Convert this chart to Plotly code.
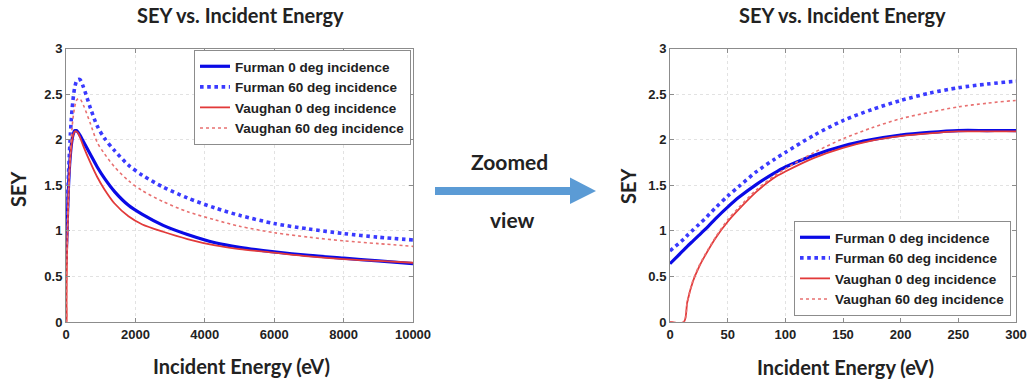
import plotly.graph_objects as go

# ---- data ----
energy = [0, 12, 15, 20, 25, 30, 40, 50, 60, 75, 90, 100, 125, 150, 175, 200, 225, 250, 275, 300,
          350, 400, 500, 700, 900, 1100, 1400, 1800, 2200, 2800, 3500, 4300, 5000, 6000, 7000,
          8000, 9000, 10000]

furman_0 = [0.64, 0.79, 0.83, 0.89, 0.95, 1.01, 1.14, 1.26, 1.37, 1.51, 1.63, 1.70, 1.83, 1.93,
            2.00, 2.05, 2.08, 2.10, 2.10, 2.10, 2.08, 2.05, 1.98, 1.84, 1.70, 1.58, 1.43, 1.28,
            1.18, 1.06, 0.96, 0.87, 0.82, 0.77, 0.73, 0.70, 0.67, 0.64]

furman_60 = [0.78, 0.91, 0.95, 1.01, 1.07, 1.13, 1.26, 1.38, 1.49, 1.65, 1.78, 1.86, 2.05, 2.21,
             2.33, 2.43, 2.51, 2.57, 2.61, 2.64, 2.66, 2.66, 2.58, 2.35, 2.15, 2.02, 1.88, 1.72,
             1.61, 1.48, 1.36, 1.25, 1.17, 1.08, 1.02, 0.97, 0.93, 0.90]

vaughan_0 = [0.0, 0.0, 0.22, 0.45, 0.60, 0.72, 0.93, 1.10, 1.24, 1.43, 1.58, 1.65, 1.80, 1.91,
             1.99, 2.04, 2.07, 2.09, 2.09, 2.09, 2.07, 2.03, 1.93, 1.75, 1.59, 1.46, 1.30, 1.16,
             1.07, 0.99, 0.91, 0.84, 0.80, 0.76, 0.72, 0.69, 0.67, 0.65]

vaughan_60 = [0.0, 0.0, 0.22, 0.46, 0.61, 0.73, 0.94, 1.12, 1.26, 1.45, 1.60, 1.68, 1.86, 2.01,
              2.13, 2.23, 2.30, 2.36, 2.40, 2.43, 2.45, 2.45, 2.38, 2.18, 1.97, 1.85, 1.70, 1.55,
              1.44, 1.32, 1.21, 1.12, 1.05, 0.98, 0.93, 0.89, 0.86, 0.83]

series_names = ["Furman 0 deg incidence", "Furman 60 deg incidence",
                "Vaughan 0 deg incidence", "Vaughan 60 deg incidence"]
series_values = [furman_0, furman_60, vaughan_0, vaughan_60]

left_ticks = [0, 2000, 4000, 6000, 8000, 10000]
left_ticktext = ["0", "2000", "4000", "6000", "8000", "10000"]
right_ticks = [0, 50, 100, 150, 200, 250, 300]
y_ticks = [0, 0.5, 1, 1.5, 2, 2.5, 3]
y_ticktext = ["0", "0.5", "1", "1.5", "2", "2.5", "3"]

chart_title = "SEY vs. Incident Energy"
x_title = "Incident Energy (eV)"
y_title = "SEY"

# ---- styling ----
W, H = 1029, 385
styles = [
    dict(color="#0a0ae6", width=3.2, dash="solid"),
    dict(color="#3a3aff", width=3.6, dash="dot"),
    dict(color="#e23a3a", width=1.8, dash="solid"),
    dict(color="#e87070", width=1.6, dash="dot"),
]

def px(x):
    return x / W

def py(y):
    return 1 - y / H

fig = go.Figure()

for i, (name, vals) in enumerate(zip(series_names, series_values)):
    fig.add_trace(go.Scatter(x=energy, y=vals, name=name, mode="lines",
                             line=dict(shape="spline", smoothing=0.8, **styles[i]),
                             xaxis="x", yaxis="y", legend="legend"))
for i, (name, vals) in enumerate(zip(series_names, series_values)):
    fig.add_trace(go.Scatter(x=energy, y=vals, name=name, mode="lines",
                             line=dict(shape="spline", smoothing=0.8, **styles[i]),
                             xaxis="x2", yaxis="y2", legend="legend2"))

tick_font = dict(family="Liberation Sans, Arial", size=13, color="#222", weight="bold")
axis_common = dict(showline=True, linecolor="#8c8c8c", linewidth=1, mirror="ticks",
                   ticks="inside", ticklen=4, tickcolor="#8c8c8c",
                   showgrid=True, gridcolor="#e2e2e2", griddash="dot", gridwidth=1,
                   zeroline=False, tickfont=tick_font, automargin=False)

legend_font = dict(family="Liberation Sans, Arial", size=13.5, color="#222", weight="bold")

ydom = [py(322), py(48.5)]
fig.update_layout(
    template="plotly_white",
    width=W, height=H,
    margin=dict(l=0, r=0, t=0, b=0, pad=0, autoexpand=False),
    paper_bgcolor="white", plot_bgcolor="white",
    xaxis=dict(domain=[px(66), px(413)], range=[0, 10000], tickvals=left_ticks,
               ticktext=left_ticktext, anchor="y", **axis_common),
    yaxis=dict(domain=ydom, range=[0, 3], tickvals=y_ticks, ticktext=y_ticktext,
               anchor="x", **axis_common),
    xaxis2=dict(domain=[px(670), px(1016)], range=[0, 300], tickvals=right_ticks,
                anchor="y2", **axis_common),
    yaxis2=dict(domain=ydom, range=[0, 3], tickvals=y_ticks, ticktext=y_ticktext,
                anchor="x2", **axis_common),
    legend=dict(x=px(411), y=py(50), xanchor="right", yanchor="top",
                bgcolor="white", bordercolor="#8c8c8c", borderwidth=1,
                font=legend_font, itemwidth=30, tracegroupgap=0),
    legend2=dict(x=px(1011), y=py(316), xanchor="right", yanchor="bottom",
                 bgcolor="white", bordercolor="#8c8c8c", borderwidth=1,
                 font=legend_font, itemwidth=30, tracegroupgap=0),
    showlegend=True,
)

title_font = dict(family="Lato", size=20, color="#222", weight="bold")
label_font = dict(family="Lato", size=20, color="#222", weight="bold")
arrow_font = dict(family="Lato", size=21, color="#222", weight="bold")
anns = [
    dict(text=chart_title, x=px(240), y=py(15), font=title_font),
    dict(text=chart_title, x=px(842), y=py(15), font=title_font),
    dict(text=x_title, x=px(241), y=py(366), font=label_font),
    dict(text=x_title, x=px(845), y=py(367), font=label_font),
    dict(text=y_title, x=px(18), y=py(189), font=label_font, textangle=-90),
    dict(text=y_title, x=px(628), y=py(186), font=label_font, textangle=-90),
    dict(text="Zoomed", x=px(509), y=py(161), font=arrow_font),
    dict(text="view", x=px(512), y=py(219), font=arrow_font),
]
for a in anns:
    a.update(xref="paper", yref="paper", showarrow=False, xanchor="center", yanchor="middle")
    fig.add_annotation(**a)

arrow_color = "#5b9bd5"
fig.add_shape(type="rect", xref="paper", yref="paper",
              x0=px(435), x1=px(572), y0=py(195), y1=py(187),
              fillcolor=arrow_color, line=dict(width=0))
fig.add_shape(type="path", xref="paper", yref="paper",
              path=f"M {px(570)} {py(177.5)} L {px(596)} {py(191)} L {px(570)} {py(204)} Z",
              fillcolor=arrow_color, line=dict(width=0))

fig.write_html("out.html",
               config={"displayModeBar": False},
               post_script="document.body.style.margin='0';document.body.style.padding='0';"
                           "document.body.style.overflow='hidden';")
